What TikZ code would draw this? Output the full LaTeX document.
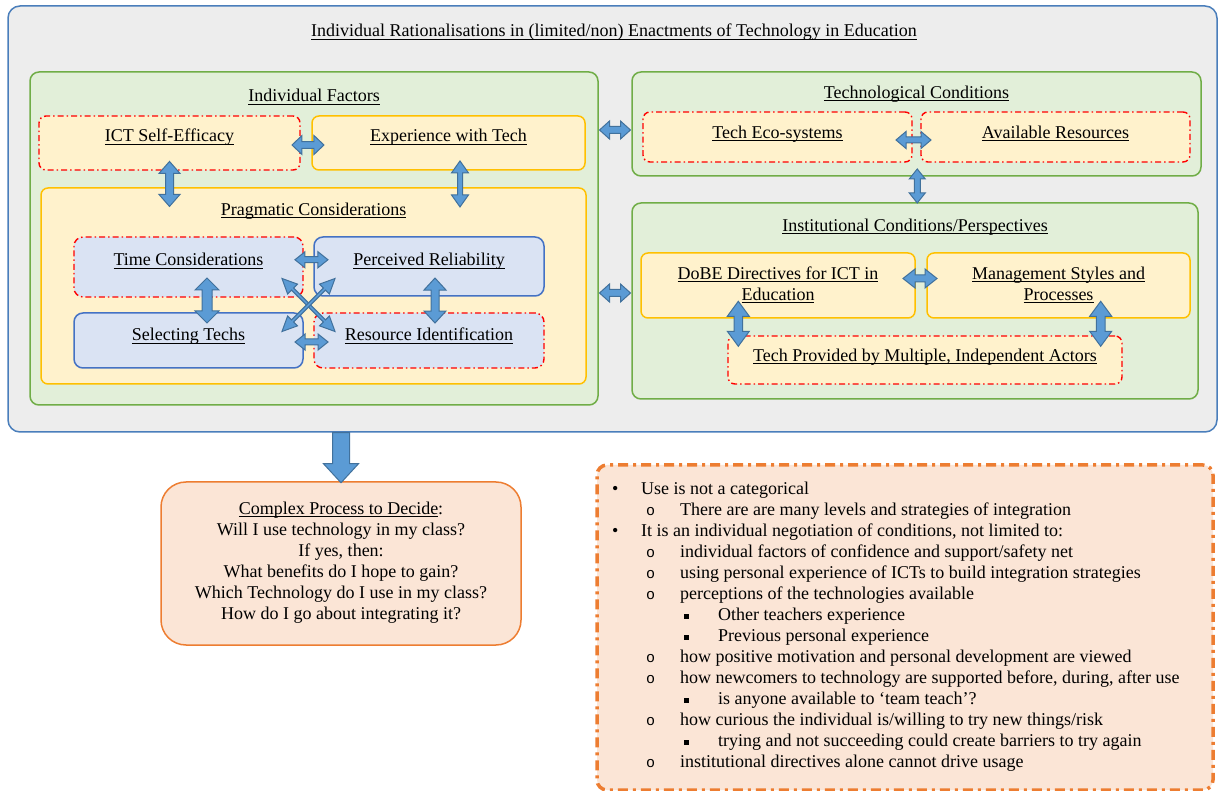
\documentclass[tikz,border=0pt]{standalone}
\usepackage{fontspec}
\setmainfont{Liberation Serif}
\setmonofont{Liberation Mono}
\usetikzlibrary{calc,positioning}

\definecolor{outerfill}{RGB}{237,237,237}
\definecolor{outerline}{RGB}{74,126,187}
\definecolor{greenfill}{RGB}{226,239,217}
\definecolor{greenline}{RGB}{112,173,71}
\definecolor{yelfill}{RGB}{255,242,204}
\definecolor{yelline}{RGB}{255,192,0}
\definecolor{bluefill}{RGB}{218,227,243}
\definecolor{blueline}{RGB}{68,114,196}
\definecolor{arrfill}{RGB}{91,155,213}
\definecolor{arrline}{RGB}{65,113,156}
\definecolor{orgfill}{RGB}{251,229,214}
\definecolor{orgline}{RGB}{237,125,49}

\newcommand{\undl}[1]{\setbox0\hbox{#1}\rlap{\rule[-2.6pt]{\wd0}{0.9pt}}\box0}
\newcommand{\lone}[1]{\makebox[29pt][l]{\textbullet}#1}
\newcommand{\ltwo}[1]{\hspace*{34pt}\makebox[34pt][l]{\fontsize{15}{21}\selectfont\ttfamily o}#1}
\newcommand{\lthree}[1]{\hspace*{72pt}\makebox[34pt][l]{\rule[2pt]{5pt}{5pt}}#1}

\tikzset{
  outerbox/.style={draw=outerline, fill=outerfill, line width=1.5pt, rounded corners=12pt, inner sep=0},
  panel/.style={draw=greenline, fill=greenfill, line width=1.5pt, rounded corners=9pt, inner sep=0},
  yelbox/.style={draw=yelline, fill=yelfill, line width=1.5pt, rounded corners=7pt, inner sep=0},
  bluebox/.style={draw=blueline, fill=bluefill, line width=1.5pt, rounded corners=9pt, inner sep=0},
  reddash/.style={draw=red, line width=1.4pt, dash pattern=on 6pt off 3pt on 1.5pt off 3pt},
  decidebox/.style={draw=orgline, fill=orgfill, line width=1.5pt, rounded corners=25pt, inner sep=0},
  notesbox/.style={draw=orgline, fill=orgfill, line width=3.5pt, rounded corners=10pt, inner sep=0,
    dash pattern=on 10pt off 5pt on 3pt off 5pt},
  lbl/.style={anchor=base, inner sep=0},
  pics/dblarr/.style n args={4}{code={
    \filldraw[draw=arrline, fill=arrfill, line width=1pt]
      (-#1,0) -- ({-#1+#4},#3) -- ({-#1+#4},#2) -- ({#1-#4},#2) -- ({#1-#4},#3) -- (#1,0)
      -- ({#1-#4},-#3) -- ({#1-#4},-#2) -- ({-#1+#4},-#2) -- ({-#1+#4},-#3) -- cycle;
  }},
  pics/downarr/.style={code={
    \filldraw[draw=arrline, fill=arrfill, line width=1pt]
      (-8.5,0) -- (8.5,0) -- (8.5,31) -- (17.5,31) -- (0,50) -- (-17.5,31) -- (-8.5,31) -- cycle;
  }}
}

\begin{document}
\begin{tikzpicture}[x=1pt, y=-1pt, every node/.style={font=\fontsize{18}{21}\selectfont}]
\useasboundingbox (0,0) rectangle (1219,791);

% big frame
\node[outerbox, minimum width=1209, minimum height=426] (outer) at (612.5,219) {};
\node[lbl] (outerT) at (614,37) {\undl{Individual Rationalisations in (limited/non) Enactments of Technology in Education}};

% individual factors
\node[panel, minimum width=568, minimum height=333] (indf) at (314,238.5) {};
\node[lbl] (indfT) at (314,102) {\undl{Individual Factors}};
\node[yelbox, reddash, minimum width=261, minimum height=54] (ict) at (169.5,143) {};
\node[lbl] (ictT) at (169.5,142) {\undl{ICT Self-Efficacy}};
\node[yelbox, minimum width=273, minimum height=54] (exp) at (448.5,143) {};
\node[lbl] (expT) at (448.5,142) {\undl{Experience with Tech}};
\node[yelbox, minimum width=545, minimum height=196] (prag) at (313.5,286) {};
\node[lbl] (pragT) at (313.5,215.5) {\undl{Pragmatic Considerations}};
\node[bluebox, reddash, minimum width=229, minimum height=60] (time) at (188.5,267) {};
\node[lbl] (timeT) at (188.5,266) {\undl{Time Considerations}};
\node[bluebox, minimum width=230, minimum height=59] (perc) at (429,266.5) {};
\node[lbl] (percT) at (429,266) {\undl{Perceived Reliability}};
\node[bluebox, minimum width=229, minimum height=55] (sel) at (188.5,340.5) {};
\node[lbl] (selT) at (188.5,341) {\undl{Selecting Techs}};
\node[bluebox, reddash, minimum width=230, minimum height=55] (res) at (429,340.5) {};
\node[lbl] (resT) at (429,341) {\undl{Resource Identification}};

% technological conditions
\node[panel, minimum width=569, minimum height=104] (techc) at (916.5,124) {};
\node[lbl] (techcT) at (916.5,98.5) {\undl{Technological Conditions}};
\node[yelbox, reddash, minimum width=269, minimum height=50] (eco) at (777.5,137) {};
\node[lbl] (ecoT) at (777.5,138.5) {\undl{Tech Eco-systems}};
\node[yelbox, reddash, minimum width=269, minimum height=50] (avail) at (1055.5,137) {};
\node[lbl] (availT) at (1055.5,138.5) {\undl{Available Resources}};

% institutional conditions
\node[panel, minimum width=566, minimum height=196] (inst) at (915,301) {};
\node[lbl] (instT) at (915,231.5) {\undl{Institutional Conditions/Perspectives}};
\node[yelbox, minimum width=274, minimum height=65] (dobe) at (778,285.5) {};
\node[anchor=north, inner sep=0, align=center] (dobeT) at (778,264.5) {\strut\undl{DoBE Directives for ICT in}\\\undl{Education}};
\node[yelbox, minimum width=263, minimum height=65] (mgmt) at (1058.5,285.5) {};
\node[anchor=north, inner sep=0, align=center] (mgmtT) at (1058.5,264.5) {\strut\undl{Management Styles and}\\\undl{Processes}};
\node[yelbox, reddash, minimum width=394, minimum height=48] (prov) at (925,360) {};
\node[lbl] (provT) at (925,361.5) {\undl{Tech Provided by Multiple, Independent Actors}};

% arrows
\pic at ($(ict.east)!.5!(exp.west)+(2,2)$) {dblarr={16}{3.3}{9.5}{10}};
\pic[rotate=90] at ($(ict.south)!.8!(ict.south|-prag.north)$) {dblarr={22.5}{4}{10.5}{12}};
\pic[rotate=90] at ($(exp.south)!.8!(exp.south|-prag.north)+(11.5,0)$) {dblarr={23}{2.5}{8.5}{12}};
\pic at ($(time.east)!.5!(perc.west)+(3,-7)$) {dblarr={16.5}{3}{8}{10}};
\pic at ($(sel.east)!.5!(res.west)+(3,1.5)$) {dblarr={16.5}{3}{8}{10}};
\pic[rotate=90] at ($(time.south)!.5!(sel.north)+(18.5,-4.5)$) {dblarr={22.5}{5}{12}{12}};
\pic[rotate=90] at ($(perc.south)!.5!(res.north)+(6,-4)$) {dblarr={22.5}{4}{11}{12}};
\pic[rotate=-45] at ($(time.south east)!.5!(res.north west)$) {dblarr={37.5}{1.5}{7}{15}};
\pic[rotate=45] at ($(time.south east)!.5!(res.north west)$) {dblarr={37.5}{1.5}{7}{15}};
\pic at ($(indf.east|-techc.west)!.5!(techc.west)+(0,6)$) {dblarr={15.5}{3.5}{9}{10}};
\pic at ($(indf.east|-inst.west)!.5!(inst.west)+(0,-8)$) {dblarr={15.5}{3.5}{9}{10}};
\pic at ($(eco.east)!.5!(avail.west)+(-3,3)$) {dblarr={17.5}{3}{8.5}{10}};
\pic[rotate=90] at ($(techc.south)!.5!(inst.north)+(1.5,-3.5)$) {dblarr={17}{3}{8}{10}};
\pic at ($(dobe.east)!.5!(mgmt.west)+(-1,-7)$) {dblarr={17}{3.5}{9.5}{12}};
\pic[rotate=90] at ($(prov.north west)+(11,-11.5)$) {dblarr={22.5}{4.3}{11}{15}};
\pic[rotate=90] at ($(prov.north east)+(-22,-11.5)$) {dblarr={22.5}{4.3}{11}{15}};

% outcome
\node[decidebox, minimum width=360, minimum height=163] (decide) at (341,563.5) {};
\node[anchor=north, inner sep=0, align=center] (decideT) at (341,499.8) {\strut\undl{Complex Process to Decide}:\\
  Will I use technology in my class?\\
  If yes, then:\\
  What benefits do I hope to gain?\\
  Which Technology do I use in my class?\\
  How do I go about integrating it?};
\pic at (outer.south -| decide.north) {downarr};

% notes
\node[notesbox, minimum width=616, minimum height=325] (notes) at (905,627.5) {};
\node[anchor=north west, inner sep=0, align=left] (notesT) at (612,479.8) {\strut\lone{Use is not a categorical}\\
  \ltwo{There are are many levels and strategies of integration}\\
  \lone{It is an individual negotiation of conditions, not limited to:}\\
  \ltwo{individual factors of confidence and support/safety net}\\
  \ltwo{using personal experience of ICTs to build integration strategies}\\
  \ltwo{perceptions of the technologies available}\\
  \lthree{Other teachers experience}\\
  \lthree{Previous personal experience}\\
  \ltwo{how positive motivation and personal development are viewed}\\
  \ltwo{how newcomers to technology are supported before, during, after use}\\
  \lthree{is anyone available to ‘team teach’?}\\
  \ltwo{how curious the individual is/willing to try new things/risk}\\
  \lthree{trying and not succeeding could create barriers to try again}\\
  \ltwo{institutional directives alone cannot drive usage}};
\end{tikzpicture}
\end{document}
